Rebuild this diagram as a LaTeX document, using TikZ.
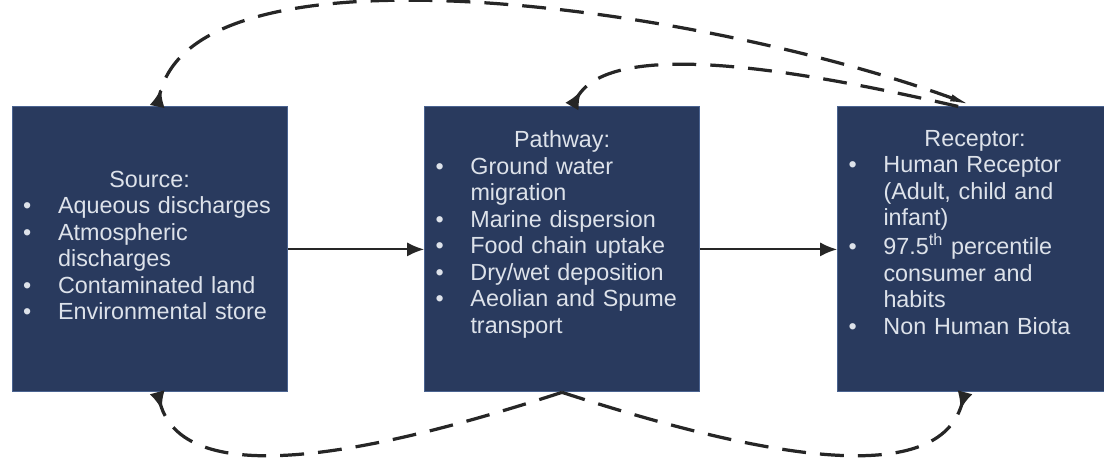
\documentclass[tikz,border=0pt]{standalone}
\usepackage{fontspec}
\setmainfont{Liberation Sans}
\usepackage{tikz}
\usetikzlibrary{arrows.meta}

\definecolor{boxblue}{HTML}{293A5E}
\definecolor{boxedge}{HTML}{4A6390}
\definecolor{boxtext}{HTML}{DDE2EA}
\definecolor{linegrey}{HTML}{262626}

\tikzset{
  box/.style={fill=boxblue, draw=boxedge, line width=0.6pt, text=boxtext,
    minimum width=6.875cm, minimum height=7.125cm, text width=6.325cm,
    inner xsep=0.275cm, align=left, font=\fontsize{16.6}{18.85}\selectfont},
  flow/.style={linegrey, line width=1.4pt, -{Latex[length=12pt,width=10pt]}},
  feedback/.style={linegrey, line width=2.3pt, dash pattern=on 17pt off 10pt},
}

\begin{document}
\begin{tikzpicture}
\useasboundingbox (0,0) rectangle (27.6,11.475);
\node [box] (src) at (3.74,5.24) {\noindent\makebox[\hsize]{Source:}\\
  \begin{tabular}[t]{@{}p{0.875cm}@{}l@{}}
  \textbullet & Aqueous discharges\\
  \textbullet & Atmospheric\\
   & discharges\\
  \textbullet & Contaminated land\\
  \textbullet & Environmental store
  \end{tabular}};
\node [box] (pway) at (14.05,5.24) {\noindent\makebox[\hsize]{Pathway:}\\
  \begin{tabular}[t]{@{}p{0.875cm}@{}l@{}}
  \textbullet & Ground water\\
   & migration\\
  \textbullet & Marine dispersion\\
  \textbullet & Food chain uptake\\
  \textbullet & Dry/wet deposition\\
  \textbullet & Aeolian and Spume\\
   & transport\\[18.85pt]
  \end{tabular}};
\node [box] (rcpt) at (24.375,5.24) {\noindent\makebox[\hsize]{Receptor:}\\
  \begin{tabular}[t]{@{}p{0.875cm}@{}l@{}}
  \textbullet & Human Receptor\\
   & (Adult, child and\\
   & infant)\\
  \textbullet & 97.5\textsuperscript{th} percentile\\
   & consumer and\\
   & habits\\
  \textbullet & Non Human Biota\\[18.85pt]
  \end{tabular}};
\draw [flow] (src) -- (pway);
\draw [flow] (pway) -- (rcpt);
% dashed returns
\draw [feedback, {Latex[length=18pt,width=5pt]}-{Latex[reversed,length=13pt,width=11pt]}]
  (rcpt.north) .. controls +(160:7.3) and +(78:4.4) .. ([xshift=0.19cm]src.north);
\draw [feedback, -{Latex[reversed,length=13pt,width=11pt]}]
  ([xshift=-0.42cm]rcpt.north) .. controls +(167:4) and +(60:2) .. ([xshift=0.25cm]pway.north);
\draw [feedback, -{Latex[reversed,length=13pt,width=11pt]}]
  (pway.south) .. controls +(198:4.3) and +(-75:2.75) .. ([xshift=0.19cm]src.south);
\draw [feedback, -{Latex[reversed,length=13pt,width=11pt]}]
  (pway.south) .. controls +(-18:4.3) and +(255:2.75) .. ([xshift=-0.25cm]rcpt.south);
\end{tikzpicture}
\end{document}
